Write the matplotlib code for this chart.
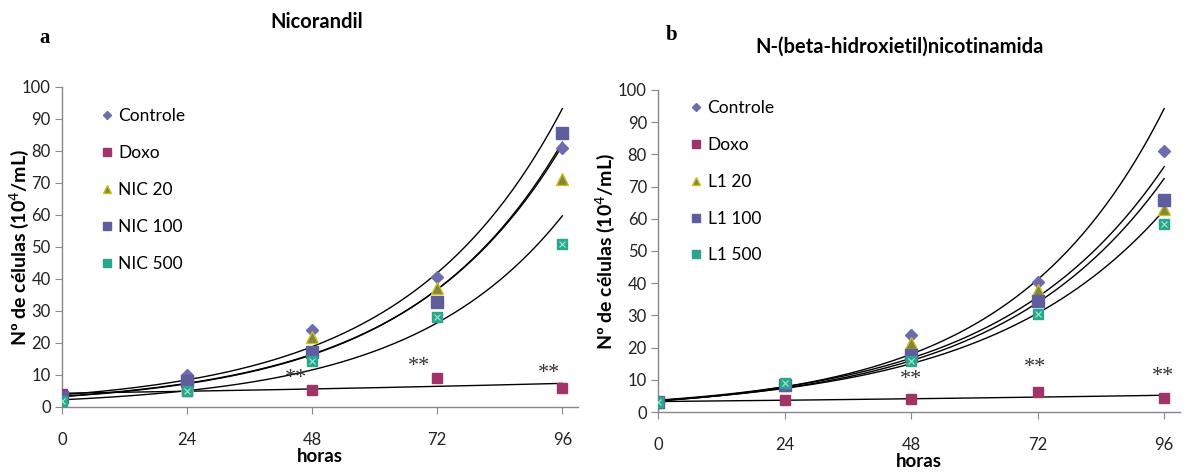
"""
Crescimento celular: Nicorandil (a) e N-(beta-hidroxietil)nicotinamida (b).
Pontos + linhas de tendência exponenciais (ajuste em log, estilo Excel).
"""
import matplotlib
matplotlib.use("Agg")
import matplotlib.pyplot as plt
import numpy as np

plt.rcParams["font.family"] = ["Lato", "DejaVu Sans"]
NARROW = ["Liberation Sans Narrow", "Lato", "DejaVu Sans"]

HORAS = [0, 24, 48, 72, 96]

# painel a - Nicorandil
A_CONTROLE = [3.0, 10.0, 24.0, 40.7, 81.0]
A_DOXO     = [4.0, 5.0, 5.3, 9.2, 5.8]
A_NIC20    = [3.0, 7.0, 21.9, 37.2, 71.2]
A_NIC100   = [3.0, 8.0, 17.3, 32.8, 85.5]
A_NIC500   = [2.0, 5.0, 14.5, 28.2, 50.9]

# painel b - N-(beta-hidroxietil)nicotinamida
B_CONTROLE = [2.8, 8.5, 23.9, 40.5, 80.9]
B_DOXO     = [3.0, 3.8, 3.9, 6.3, 4.2]
B_L1_20    = [3.0, 8.5, 21.5, 37.9, 62.9]
B_L1_100   = [3.0, 8.5, 17.7, 34.5, 65.8]
B_L1_500   = [3.0, 9.0, 15.9, 30.4, 58.3]

A_LABELS = ["Controle", "Doxo", "NIC 20", "NIC 100", "NIC 500"]
B_LABELS = ["Controle", "Doxo", "L1 20", "L1 100", "L1 500"]

# asteriscos (posicao aproximada)
A_STARS = [(45.0, 9.0), (68.5, 12.7), (93.5, 10.5)]
B_STARS = [(48.0, 10.0), (71.5, 13.7), (95.8, 10.9)]

STYLES = [
    dict(marker="D", color="#6C6CAE", mec="#6C6CAE", ms=6.0),
    dict(marker="s", color="#A0336A", mec="#A0336A", ms=7.5),
    dict(marker="^", color="#85853F", mec="#C9C21A", ms=8.0),
    dict(marker="s", color="#5E5E9E", mec="#5E5E9E", ms=8.0),
    dict(marker="s", color="#2AA68C", mec="#2AA68C", ms=7.5),
]


def exp_fit(x, y):
    b, a = np.polyfit(np.asarray(x, float), np.log(y), 1)
    xs = np.linspace(0, 96, 200)
    return xs, np.exp(a + b * xs)


def draw_panel(ax, series, labels, stars, leg_anchor, ylab_x):
    handles = []
    for vals in series:
        xs, ys = exp_fit(HORAS, vals)
        ax.plot(xs, ys, color="black", lw=1.0, zorder=2)
    for i, (vals, lab, st) in enumerate(zip(series, labels, STYLES)):
        h, = ax.plot(HORAS, vals, ls="none", marker=st["marker"], ms=st["ms"],
                     mfc=st["color"], mec=st["mec"], mew=1.0, label=lab, zorder=3)
        if i == 4:
            # marcador "x" claro dentro do quadrado
            ax.plot(HORAS, vals, ls="none", marker="x", ms=4.5, mec="#A8E6D6",
                    mew=0.8, zorder=4)
        handles.append(h)

    for sx, sy in stars:
        ax.text(sx, sy, "**", ha="center", va="center", fontsize=16,
                family="Liberation Serif", color="#333333")

    ax.legend(handles=handles, loc="upper left", bbox_to_anchor=leg_anchor,
              frameon=False, fontsize=12.5, labelspacing=1.2,
              handlelength=0.6, handletextpad=0.35, markerscale=0.75,
              borderaxespad=0.0)

    ax.set_xlim(0, 99)
    ax.set_ylim(0, 100)
    ax.set_xticks(HORAS)
    ax.set_yticks(range(0, 101, 10))
    ax.tick_params(axis="x", direction="out", length=5, pad=13, color="#888888",
                   labelsize=12, labelcolor="#222222")
    ax.tick_params(axis="y", direction="out", length=5, pad=3, color="#888888",
                   labelsize=12, labelcolor="#222222")
    for lbl in ax.get_xticklabels() + ax.get_yticklabels():
        lbl.set_family(NARROW)
    for s in ("top", "right"):
        ax.spines[s].set_visible(False)
    for s in ("left", "bottom"):
        ax.spines[s].set_color("#888888")
        ax.spines[s].set_linewidth(1.0)
    ax.set_xlabel("horas", fontsize=13.5, fontweight="bold", labelpad=0)
    ax.set_ylabel("Nº de células (10$^{4}$/mL)", fontsize=14,
                  fontweight="bold")
    ax.yaxis.set_label_coords(ylab_x, 0.5)


fig = plt.figure(figsize=(11.89, 4.75), dpi=100)
ax_a = fig.add_axes([0.0521, 0.1432, 0.434, 0.6737])
ax_b = fig.add_axes([0.5534, 0.1326, 0.439, 0.678])

draw_panel(ax_a, [A_CONTROLE, A_DOXO, A_NIC20, A_NIC100, A_NIC500],
           A_LABELS, A_STARS, (0.064, 0.955), -0.06)
draw_panel(ax_b, [B_CONTROLE, B_DOXO, B_L1_20, B_L1_100, B_L1_500],
           B_LABELS, B_STARS, (0.05, 0.99), -0.078)

fig.text(317 / 1189, 1 - 22 / 475, "Nicorandil", ha="center", va="center",
         fontsize=14.5, fontweight="bold")
fig.text(45 / 1189, 1 - 38 / 475, "a", ha="center", va="center",
         fontsize=15, fontweight="bold", family="Liberation Serif")
fig.text(900 / 1189, 1 - 47 / 475, "N-(beta-hidroxietil)nicotinamida",
         ha="center", va="center", fontsize=14.5, fontweight="bold")
fig.text(672 / 1189, 1 - 35 / 475, "b", ha="center", va="center",
         fontsize=15, fontweight="bold", family="Liberation Serif")

fig.savefig("out.png", dpi=100)
plt.close(fig)
